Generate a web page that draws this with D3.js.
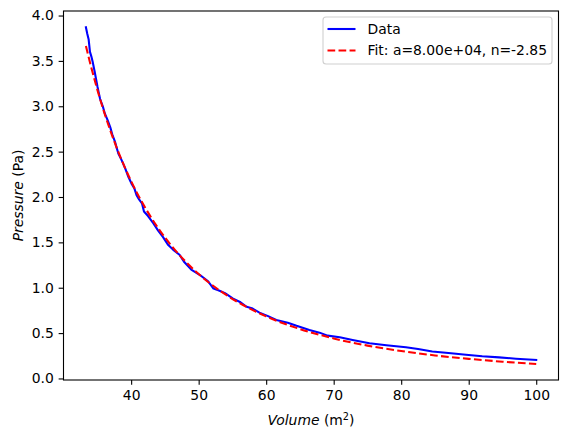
<!DOCTYPE html>
<html><head><meta charset="utf-8">
<script src="https://cdn.jsdelivr.net/npm/d3@7"></script>
<style>
body{margin:0;background:#fff;}
text{font-family:"DejaVu Sans",sans-serif;}
</style></head>
<body><svg id="c" width="569" height="439"></svg>
<script>
const dataV = [33.3,33.5,33.7,33.9,34.1,34.3,34.6,34.8,35.0,35.2,35.4,35.8,36.1,36.5,36.9,37.2,37.6,38.1,38.5,38.8,39.2,39.6,40.1,40.5,40.8,41.2,41.6,41.9,42.5,43.3,44.0,44.7,45.5,46.2,47.2,47.9,48.9,50.2,51.4,52.2,53.0,53.9,55.1,56.2,57.1,58.0,59.0,60.2,61.5,63.2,64.5,66.4,67.9,69.1,70.9,72.8,75.3,77.8,80.7,82.5,84.6,87.0,89.6,92.0,94.5,97.0,100.0];
const dataP = [3.87,3.80,3.74,3.60,3.55,3.49,3.38,3.30,3.22,3.15,3.08,3.00,2.92,2.85,2.77,2.69,2.61,2.48,2.42,2.37,2.30,2.22,2.14,2.09,2.02,1.97,1.93,1.84,1.79,1.71,1.63,1.56,1.47,1.42,1.36,1.28,1.20,1.14,1.07,0.99,0.97,0.94,0.88,0.84,0.79,0.77,0.725,0.69,0.645,0.615,0.58,0.535,0.505,0.472,0.455,0.425,0.388,0.365,0.343,0.325,0.298,0.280,0.262,0.245,0.232,0.218,0.205];
const fitV = [33.3,34,35,36,37,38,39,40,42,44,46,48,50,53,56,60,65,70,75,80,85,90,95,100];
const fitP = [3.665,3.455,3.181,2.935,2.715,2.516,2.337,2.174,1.892,1.657,1.460,1.293,1.151,0.975,0.833,0.684,0.545,0.441,0.362,0.302,0.254,0.216,0.185,0.159];
const xTicks = [40,50,60,70,80,90,100];
const yTicks = [0.0,0.5,1.0,1.5,2.0,2.5,3.0,3.5,4.0];
const legendLabels = ["Data","Fit: a=8.00e+04, n=-2.85"];

const svg = d3.select("#c");
const L=63.5,R=558.5,T=11,B=380;
const x = d3.scaleLinear().domain([29.98,103.3]).range([L,R]);
const y = d3.scaleLinear().domain([-0.017,4.05]).range([B,T]);

const clip = svg.append("clipPath").attr("id","cp").append("rect").attr("x",L).attr("y",T).attr("width",R-L).attr("height",B-T);

const line = d3.line().x(d=>x(d[0])).y(d=>y(d[1]));
const fline = d3.line().x(d=>x(d[0])).y(d=>y(d[1])).curve(d3.curveMonotoneX);

const g = svg.append("g").attr("clip-path","url(#cp)");
g.append("path").datum(dataV.map((v,i)=>[v,dataP[i]])).attr("d",line)
 .attr("fill","none").attr("stroke","#0000ff").attr("stroke-width",2.08).attr("stroke-linejoin","round").attr("stroke-linecap","square");
g.append("path").datum(fitV.map((v,i)=>[v,fitP[i]])).attr("d",fline)
 .attr("fill","none").attr("stroke","#ff0000").attr("stroke-width",2.08).attr("stroke-dasharray","7.7,3.33");

// axes
const xa = svg.append("g").attr("transform",`translate(0,${B})`)
 .call(d3.axisBottom(x).tickValues(xTicks).tickFormat(d3.format("d")).tickSize(4.86).tickPadding(4.86));
const ya = svg.append("g").attr("transform",`translate(${L},0)`)
 .call(d3.axisLeft(y).tickValues(yTicks).tickFormat(d3.format(".1f")).tickSize(4.86).tickPadding(4.86));
[xa,ya].forEach(a=>{
  a.select(".domain").remove();
  a.selectAll("line").attr("stroke","#000").attr("stroke-width",1.1);
  a.selectAll("text").attr("font-size","13.9px").attr("fill","#000").attr("font-family","DejaVu Sans");
});
svg.append("rect").attr("x",L).attr("y",T).attr("width",R-L).attr("height",B-T)
 .attr("fill","none").attr("stroke","#000").attr("stroke-width",1.1);

// axis labels
const xl = svg.append("text").attr("x",(L+R)/2).attr("y",425).attr("text-anchor","middle").attr("font-size","13.9px");
xl.append("tspan").attr("font-style","italic").text("Volume");
xl.append("tspan").text(" (m");
xl.append("tspan").attr("font-size","9.7px").attr("dy","-5").text("2");
xl.append("tspan").attr("dy","5").text(")");
const yl = svg.append("text").attr("transform",`translate(23,${(T+B)/2}) rotate(-90)`).attr("text-anchor","middle").attr("font-size","13.9px");
yl.append("tspan").attr("font-style","italic").text("Pressure");
yl.append("tspan").text(" (Pa)");

// legend
const lg = svg.append("g");
lg.append("rect").attr("x",323).attr("y",17).attr("width",229).attr("height",47).attr("rx",3)
 .attr("fill","#fff").attr("fill-opacity",0.8).attr("stroke","#d0d0d0").attr("stroke-width",1.1);
const cols=["#0000ff","#ff0000"], dashes=[null,"7.7,3.33"], ly=[29,50.5];
legendLabels.forEach((t,i)=>{
  lg.append("line").attr("x1",327.5).attr("x2",355.5).attr("y1",ly[i]).attr("y2",ly[i])
   .attr("stroke",cols[i]).attr("stroke-width",2.08).attr("stroke-dasharray",dashes[i]);
  lg.append("text").attr("x",367.5).attr("y",ly[i]).attr("dy","0.35em").attr("font-size","13.9px").text(t);
});
</script></body></html>
